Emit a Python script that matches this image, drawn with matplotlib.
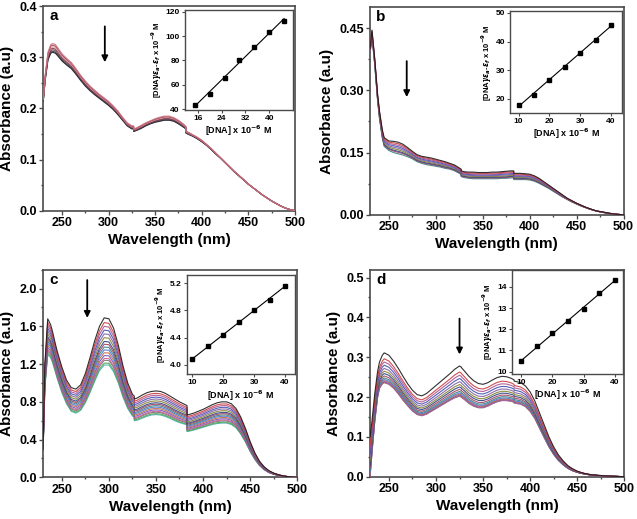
import numpy as np
import matplotlib
matplotlib.use("Agg")
import matplotlib.pyplot as plt
from matplotlib.ticker import MultipleLocator, FormatStrFormatter

plt.rcParams['font.family'] = ['Liberation Sans', 'DejaVu Sans']
plt.rcParams['font.weight'] = 'bold'
plt.rcParams['mathtext.fontset'] = 'dejavusans'

# --- wavelength grid shared by all spectra (327 / 383 nm appear twice: lamp change steps) ---
WAVELENGTH = [230, 232, 235, 238, 240, 243, 245, 250, 255, 260, 265, 270, 275, 280, 285,
              290, 295, 300, 305, 310, 315, 320, 325, 327, 327, 330, 335, 340, 345, 350,
              355, 360, 365, 370, 375, 380, 383, 383, 385, 390, 395, 400, 405, 410, 415,
              420, 425, 430, 435, 440, 445, 450, 455, 460, 465, 470, 475, 480, 485, 490,
              495, 500]

# --- panel a: first (free complex) and last spectrum ---
A_TOP = [0.220, 0.265, 0.310, 0.325, 0.327, 0.325, 0.320, 0.307, 0.298, 0.290, 0.278, 0.265,
         0.254, 0.244, 0.236, 0.228, 0.221, 0.214, 0.205, 0.195, 0.183, 0.172, 0.166, 0.166,
         0.160, 0.162, 0.167, 0.172, 0.176, 0.180, 0.183, 0.185, 0.185, 0.182, 0.177, 0.170,
         0.165, 0.156, 0.154, 0.149, 0.144, 0.138, 0.130, 0.122, 0.113, 0.104, 0.095, 0.086,
         0.077, 0.069, 0.061, 0.052, 0.045, 0.038, 0.031, 0.025, 0.019, 0.014, 0.009, 0.005,
         0.002, 0.000]
A_BOTTOM = [0.215, 0.255, 0.295, 0.308, 0.310, 0.308, 0.304, 0.293, 0.285, 0.278, 0.267, 0.255,
            0.244, 0.235, 0.227, 0.220, 0.213, 0.206, 0.198, 0.188, 0.177, 0.166, 0.160, 0.160,
            0.155, 0.157, 0.161, 0.166, 0.170, 0.173, 0.175, 0.177, 0.177, 0.175, 0.170, 0.164,
            0.160, 0.152, 0.150, 0.146, 0.141, 0.135, 0.128, 0.120, 0.111, 0.103, 0.094, 0.085,
            0.076, 0.068, 0.060, 0.052, 0.045, 0.038, 0.031, 0.025, 0.019, 0.014, 0.009, 0.005,
            0.002, 0.000]
A_LEVELS = [0.327, 0.324, 0.321, 0.318, 0.315, 0.312, 0.310]   # peak height of each spectrum

# --- panel b ---
B_TOP = [0.400, 0.445, 0.375, 0.290, 0.250, 0.205, 0.186, 0.178, 0.177, 0.175, 0.170, 0.162,
         0.153, 0.145, 0.141, 0.139, 0.137, 0.134, 0.131, 0.128, 0.124, 0.120, 0.113, 0.110,
         0.106, 0.104, 0.103, 0.103, 0.102, 0.102, 0.102, 0.103, 0.103, 0.104, 0.105, 0.106,
         0.106, 0.100, 0.100, 0.100, 0.099, 0.098, 0.094, 0.088, 0.080, 0.072, 0.064, 0.056,
         0.048, 0.040, 0.034, 0.028, 0.023, 0.018, 0.014, 0.010, 0.008, 0.006, 0.004, 0.002,
         0.001, 0.000]
B_BOTTOM = [0.390, 0.430, 0.360, 0.275, 0.232, 0.185, 0.165, 0.155, 0.150, 0.147, 0.144, 0.140,
            0.135, 0.128, 0.124, 0.121, 0.119, 0.117, 0.115, 0.112, 0.110, 0.106, 0.100, 0.097,
            0.092, 0.090, 0.088, 0.087, 0.087, 0.087, 0.087, 0.087, 0.087, 0.088, 0.088, 0.089,
            0.089, 0.085, 0.085, 0.085, 0.085, 0.084, 0.081, 0.076, 0.070, 0.064, 0.057, 0.050,
            0.043, 0.037, 0.031, 0.026, 0.021, 0.017, 0.013, 0.010, 0.007, 0.005, 0.003, 0.002,
            0.001, 0.000]
B_LEVELS = [0.178, 0.175, 0.172, 0.169, 0.166, 0.163, 0.160, 0.158, 0.155]

# --- panel c ---
C_TOP = [0.30, 1.20, 1.68, 1.62, 1.55, 1.42, 1.34, 1.17, 1.03, 0.95, 0.935, 0.98,
         1.10, 1.27, 1.45, 1.60, 1.69, 1.68, 1.58, 1.40, 1.18, 1.00, 0.88, 0.86,
         0.83, 0.84, 0.87, 0.895, 0.91, 0.915, 0.91, 0.89, 0.86, 0.83, 0.80, 0.775,
         0.76, 0.66, 0.665, 0.68, 0.70, 0.72, 0.745, 0.77, 0.79, 0.80, 0.80, 0.78,
         0.73, 0.64, 0.52, 0.38, 0.26, 0.17, 0.11, 0.07, 0.045, 0.028, 0.015, 0.008,
         0.003, 0.0]
C_BOTTOM = [0.25, 0.95, 1.30, 1.27, 1.22, 1.12, 1.05, 0.90, 0.78, 0.70, 0.68, 0.71,
            0.79, 0.90, 1.02, 1.13, 1.19, 1.19, 1.12, 1.00, 0.85, 0.73, 0.65, 0.635,
            0.60, 0.605, 0.625, 0.645, 0.66, 0.665, 0.66, 0.645, 0.625, 0.60, 0.58, 0.565,
            0.555, 0.485, 0.488, 0.50, 0.515, 0.53, 0.545, 0.56, 0.57, 0.575, 0.575, 0.56,
            0.525, 0.46, 0.375, 0.275, 0.19, 0.125, 0.08, 0.05, 0.032, 0.02, 0.011, 0.006,
            0.002, 0.0]
C_LEVELS = [1.70, 1.65, 1.61, 1.57, 1.53, 1.49, 1.45, 1.42, 1.39, 1.36, 1.33, 1.30,
            1.27, 1.25, 1.22, 1.20]

# --- panel d ---
D_TOP = [0.100, 0.140, 0.210, 0.265, 0.288, 0.305, 0.311, 0.305, 0.290, 0.272, 0.252, 0.233,
         0.217, 0.206, 0.203, 0.209, 0.219, 0.229, 0.239, 0.249, 0.259, 0.270, 0.278, 0.275,
         0.274, 0.266, 0.252, 0.241, 0.234, 0.232, 0.236, 0.243, 0.249, 0.252, 0.251, 0.247,
         0.243, 0.240, 0.239, 0.236, 0.228, 0.213, 0.190, 0.160, 0.130, 0.100, 0.075, 0.055,
         0.040, 0.028, 0.020, 0.014, 0.010, 0.007, 0.005, 0.004, 0.003, 0.002, 0.0015, 0.001,
         0.0005, 0.0]
D_BOTTOM = [0.000, 0.060, 0.140, 0.200, 0.222, 0.233, 0.236, 0.232, 0.222, 0.208, 0.192, 0.178,
            0.165, 0.156, 0.153, 0.157, 0.164, 0.171, 0.178, 0.185, 0.192, 0.198, 0.202, 0.200,
            0.199, 0.194, 0.184, 0.177, 0.173, 0.173, 0.177, 0.183, 0.188, 0.191, 0.191, 0.189,
            0.187, 0.185, 0.184, 0.182, 0.176, 0.164, 0.146, 0.122, 0.098, 0.075, 0.056, 0.041,
            0.030, 0.021, 0.015, 0.011, 0.008, 0.006, 0.004, 0.003, 0.002, 0.0015, 0.001, 0.0007,
            0.0003, 0.0]
D_LEVELS = [0.311, 0.296, 0.288, 0.280, 0.272, 0.265, 0.259, 0.253, 0.248, 0.244, 0.241,
            0.239, 0.237, 0.236]

# --- insets: [DNA] vs [DNA]/(ea-ef) ---
INSET_A_X = [15, 20, 25, 30, 35, 40, 45]
INSET_A_Y = [43.5, 52.3, 66.0, 80.0, 90.9, 103.5, 112.6]
INSET_B_X = [10, 15, 20, 25, 30, 35, 40]
INSET_B_Y = [18.0, 21.5, 26.5, 31.2, 36.0, 40.5, 45.8]
INSET_C_X = [10, 15, 20, 25, 30, 35, 40]
INSET_C_Y = [4.08, 4.27, 4.43, 4.63, 4.81, 4.96, 5.16]
INSET_D_X = [10, 15, 20, 25, 30, 35, 40]
INSET_D_Y = [10.5, 11.2, 11.8, 12.4, 12.95, 13.7, 14.3]

ORIGIN_COLORS = ['#1a1a1a', '#c83c3c', '#b05090', '#4050b0', '#8060a0', '#808030', '#304080',
                 '#a04060', '#3a8080', '#5070d0', '#c07040', '#7050c0', '#d06090', '#707070',
                 '#50a050', '#40b0b0']
RED_COLORS = ['#c87080', '#a04050', '#e0a0b0', '#803030', '#604060', '#303040', '#151515']

FRAME = '#4a4a4a'


def style_axes(ax, fs, lw=1.2, tl=3):
    for s in ax.spines.values():
        s.set_color(FRAME)
        s.set_linewidth(lw)
    ax.tick_params(which='both', direction='out', color=FRAME, width=lw * 0.8,
                   labelsize=fs, pad=1.5)
    ax.tick_params(which='major', length=tl)
    ax.tick_params(which='minor', length=tl * 0.6)
    for lab in ax.get_xticklabels() + ax.get_yticklabels():
        lab.set_fontweight('bold')


def draw_spectra(ax, top, bottom, levels, colors):
    wl = np.array(WAVELENGTH)
    top = np.array(top)
    bottom = np.array(bottom)
    lo, hi = min(levels), max(levels)
    n = len(levels)
    for i, lev in enumerate(levels):
        t = (lev - lo) / (hi - lo)
        ax.plot(wl, bottom + (top - bottom) * t, color=colors[i % len(colors)],
                lw=0.8, alpha=0.9, zorder=3 + n - i)


def main_panel(rect, letter, top, bottom, levels, colors, ylim, yticks, yfmt, arrow):
    ax = fig.add_axes(rect)
    draw_spectra(ax, top, bottom, levels, colors)
    ax.set_xlim(230, 500)
    ax.set_ylim(*ylim)
    ax.set_xticks([250, 300, 350, 400, 450, 500])
    ax.xaxis.set_minor_locator(MultipleLocator(25))
    ax.set_yticks(yticks)
    ax.yaxis.set_minor_locator(MultipleLocator((yticks[1] - yticks[0]) / 2))
    ax.yaxis.set_major_formatter(FormatStrFormatter(yfmt))
    style_axes(ax, 9)
    ax.set_xlabel('Wavelength (nm)', fontsize=11, fontweight='bold', labelpad=3)
    ax.set_ylabel('Absorbance (a.u)', fontsize=11, fontweight='bold', labelpad=4)
    ax.text(0.025, 0.985, letter, transform=ax.transAxes, ha='left', va='top',
            fontsize=11, fontweight='bold')
    x, y0, y1 = arrow
    ax.annotate('', xy=(x, y1), xytext=(x, y0),
                arrowprops=dict(arrowstyle='-|>', color='black', lw=1.3, mutation_scale=9))
    return ax


def inset_panel(rect, xs, ys, xlim, ylim, xticks, yticks, yfmt):
    ax = fig.add_axes(rect)
    k, b = np.polyfit(xs, ys, 1)
    xx = np.array([xs[0], xs[-1]])
    ax.plot(xx, k * xx + b, color='black', lw=0.8)
    ax.plot(xs, ys, 's', color='black', ms=2.5)
    ax.set_xlim(*xlim)
    ax.set_ylim(*ylim)
    ax.set_xticks(xticks)
    ax.set_yticks(yticks)
    ax.yaxis.set_major_formatter(FormatStrFormatter(yfmt))
    style_axes(ax, 6, lw=1.0, tl=2)
    ax.set_xlabel(r'[DNA] x 10$^{-6}$ M', fontsize=6.5, fontweight='bold', labelpad=1.5)
    ax.set_ylabel(r'[DNA]/$\epsilon_a$-$\epsilon_f$ x 10$^{-9}$ M', fontsize=5.5,
                  fontweight='bold', labelpad=1.5)
    return ax


fig = plt.figure(figsize=(6.37, 5.19), dpi=100)

main_panel([0.068, 0.594, 0.395, 0.394], 'a', A_TOP, A_BOTTOM, A_LEVELS, RED_COLORS,
           (0, 0.4), [0, 0.1, 0.2, 0.3, 0.4], '%.1f', (296, 0.366, 0.285))
main_panel([0.581, 0.586, 0.398, 0.400], 'b', B_TOP, B_BOTTOM, B_LEVELS, ORIGIN_COLORS,
           (0, 0.5), [0, 0.15, 0.30, 0.45], '%.2f', (269, 0.377, 0.277))
main_panel([0.0675, 0.0803, 0.399, 0.400], 'c', C_TOP, C_BOTTOM, C_LEVELS, ORIGIN_COLORS,
           (0, 2.2), [0, 0.4, 0.8, 1.2, 1.6, 2.0], '%.1f', (277, 2.12, 1.66))
main_panel([0.581, 0.0815, 0.399, 0.399], 'd', D_TOP, D_BOTTOM, D_LEVELS, ORIGIN_COLORS,
           (0, 0.52), [0, 0.1, 0.2, 0.3, 0.4, 0.5], '%.1f', (325, 0.404, 0.30))

inset_panel([0.290, 0.788, 0.170, 0.193], INSET_A_X, INSET_A_Y, (11.6, 48), (39.4, 121.4),
            [16, 24, 32, 40], [40, 60, 80, 100, 120], '%d')
inset_panel([0.801, 0.782, 0.176, 0.196], INSET_B_X, INSET_B_Y, (7.3, 43.7), (15, 50.5),
            [10, 20, 30, 40], [20, 30, 40, 50], '%d')
inset_panel([0.293, 0.279, 0.170, 0.191], INSET_C_X, INSET_C_Y, (8.2, 43.2), (3.86, 5.32),
            [10, 20, 30, 40], [4.0, 4.4, 4.8, 5.2], '%.1f')
inset_panel([0.803, 0.280, 0.175, 0.200], INSET_D_X, INSET_D_Y, (6.8, 42.7), (9.9, 14.8),
            [10, 20, 30, 40], [10, 11, 12, 13, 14], '%d')

fig.savefig('out.png', dpi=100)
